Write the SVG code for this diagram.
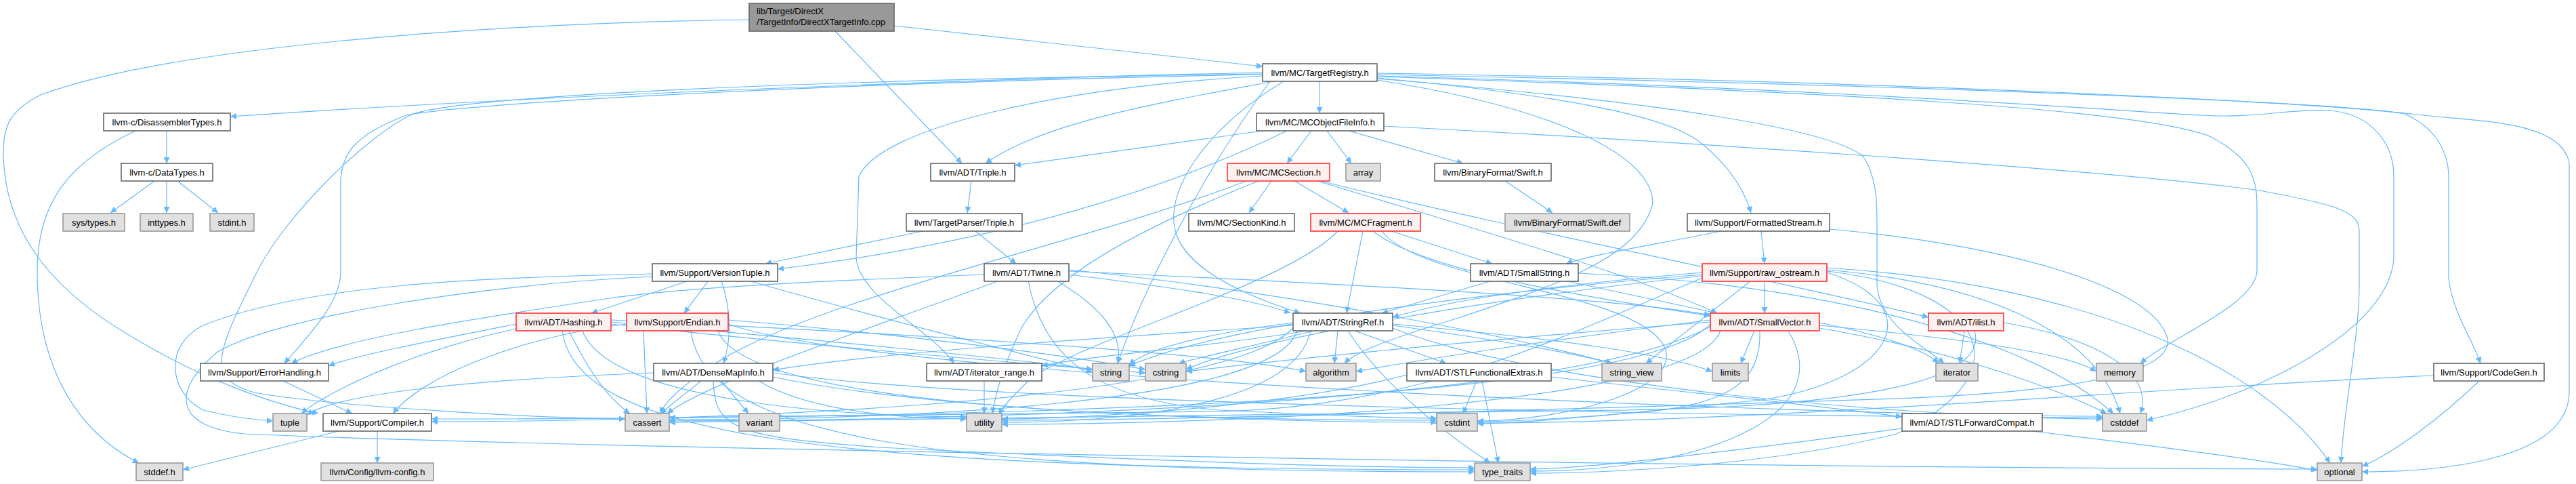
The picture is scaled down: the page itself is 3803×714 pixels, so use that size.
<svg xmlns="http://www.w3.org/2000/svg" width="3803" height="714" viewBox="0 0 3803 714">
<style>
text{font-family:"Liberation Sans",Arial,sans-serif;font-size:13px;fill:#000;text-anchor:middle}
.n rect{fill:#fff;stroke:#666;stroke-width:1.6}
.r rect{fill:#fff0f0;stroke:#f33;stroke-width:1.6}
.g rect{fill:#e0e0e0;stroke:#999;stroke-width:1.6}
.root rect{fill:#999;stroke:#666;stroke-width:1.6}
#edges path{fill:none;stroke:#63b8ff;stroke-width:1.2;marker-end:url(#ah)}
</style>
<defs>
<marker id="ah" viewBox="0 0 10 10" refX="10" refY="5" markerWidth="12" markerHeight="9" markerUnits="userSpaceOnUse" orient="auto">
<path d="M0,0 L10,5 L0,10 z" fill="#63b8ff"/>
</marker>
</defs>
<rect width="3803" height="714" fill="#fff"/>
<g id="edges">
<path d="M1320,38 L1864,98"/>
<path d="M1233,46 L1420,241"/>
<path d="M1106,29 C700,35 250,70 60,140 C10,165 5,190 5,230 C8,330 60,420 200,500 C300,560 400,595 470,610"/>
<path d="M1864,107 C1500,115 800,140 340,172"/>
<path d="M1948,120 L1948,167"/>
<path d="M1880,120 C1720,150 1540,180 1455,241"/>
<path d="M1895,120 C1780,190 1720,280 1735,340 C1750,400 1850,440 1920,462"/>
<path d="M1864,112 C1550,130 1300,190 1268,260 L1264,380 C1268,440 1380,490 1408,536"/>
<path d="M1864,110 C1300,120 700,150 600,170 C520,200 503,230 503,270 L503,400 C503,450 450,500 420,536"/>
<path d="M1864,109 C1200,118 700,140 610,168 C540,200 420,320 380,400 C320,520 300,560 380,580 C500,600 800,617 923,618"/>
<path d="M2033,115 C2300,140 2460,170 2510,210 C2560,250 2578,290 2585,314"/>
<path d="M2033,118 C2300,160 2440,230 2440,300 C2420,380 2300,420 2150,470 C2050,500 2000,520 1985,536"/>
<path d="M1875,120 C1780,250 1690,420 1650,536"/>
<path d="M2033,116 C2450,150 2700,190 2750,230 C2771,260 2771,300 2771,330 L2771,420 C2775,480 2840,510 2870,536"/>
<path d="M2033,113 C2700,135 3150,160 3260,200 C3320,230 3332,260 3332,300 L3332,400 C3330,450 3200,500 3160,536"/>
<path d="M2033,112 C2700,130 3150,165 3250,170 C3330,175 3380,160 3440,163 C3510,170 3534,220 3534,260 L3534,380 C3530,480 3350,580 3169,620"/>
<path d="M2033,110 C2800,125 3450,150 3550,168 C3600,190 3615,230 3615,260 L3615,410 C3620,460 3650,500 3662,536"/>
<path d="M2033,108 C2800,120 3400,150 3560,168 C3650,180 3780,175 3793,240 L3793,580 C3790,680 3600,696 3487,696"/>
<path d="M1864,193 L1498,244"/>
<path d="M1936,193 L1900,241"/>
<path d="M1959,193 L1995,241"/>
<path d="M1991,193 L2160,241"/>
<path d="M2043,186 C2500,210 3100,250 3330,280 C3440,300 3483,310 3483,340 L3483,420 C3483,500 3460,600 3456,683"/>
<path d="M1900,193 C1700,290 1450,360 1148,397"/>
<path d="M1434,267 L1428,314"/>
<path d="M1362,341 L1130,389"/>
<path d="M1440,341 L1500,389"/>
<path d="M1877,267 L1844,314"/>
<path d="M1911,267 L1991,314"/>
<path d="M1945,267 C2150,330 2400,400 2535,462"/>
<path d="M1950,267 C2200,330 2650,420 2847,468"/>
<path d="M1840,267 C1600,360 1200,440 1050,540 C1000,575 980,595 975,610"/>
<path d="M1858,267 C1700,330 1560,400 1510,480 C1480,540 1470,580 1465,610"/>
<path d="M2054,341 L2203,389"/>
<path d="M2012,341 L1988,462"/>
<path d="M2027,341 C2100,400 2350,440 2525,466"/>
<path d="M2040,341 C2100,420 2440,430 2460,520 C2470,580 2300,621 2181,621"/>
<path d="M1975,341 C1900,420 1600,500 1520,560 C1490,590 1480,600 1475,612"/>
<path d="M2222,267 L2292,314"/>
<path d="M2540,341 C2450,360 2350,375 2312,389"/>
<path d="M2600,341 L2605,389"/>
<path d="M2701,338 C2950,360 3180,420 3200,500 C3210,560 3000,580 2800,588 C2300,605 1700,620 1479,620"/>
<path d="M1017,414 L873,462"/>
<path d="M1046,414 L1010,462"/>
<path d="M1065,414 C1080,460 1080,500 1068,536"/>
<path d="M1105,414 C1300,470 1500,520 1613,548"/>
<path d="M963,404 C700,410 450,420 300,480 C240,510 250,580 300,605 C340,615 370,619 403,621"/>
<path d="M963,408 C700,420 400,470 320,520 C250,580 260,630 360,640 C800,660 2500,690 3421,692"/>
<path d="M1453,405 C1200,415 1000,425 900,440 C700,470 500,500 430,536"/>
<path d="M1578,400 C2000,420 2400,440 2525,465"/>
<path d="M1578,405 C1700,420 1850,440 1905,462"/>
<path d="M1518,414 C1540,530 1620,590 1800,605 C1950,612 2050,617 2121,617"/>
<path d="M1560,414 C1620,450 1660,490 1650,536"/>
<path d="M1475,414 C1300,480 1050,560 985,610"/>
<path d="M1578,398 C1900,430 2250,500 2380,536"/>
<path d="M2203,414 L2040,462"/>
<path d="M2310,414 L2535,462"/>
<path d="M2330,403 C2700,420 3000,500 3120,610"/>
<path d="M2605,414 L2605,462"/>
<path d="M2585,414 L2430,536"/>
<path d="M2513,402 C2300,420 2150,440 2056,468"/>
<path d="M2513,405 C2200,430 1800,480 1667,540"/>
<path d="M2513,407 C2200,440 1850,500 1751,545"/>
<path d="M2697,398 C2950,420 3100,500 3130,610"/>
<path d="M2697,395 C3100,420 3350,550 3440,683"/>
<path d="M2697,400 C2950,430 2980,560 2800,640 C2600,690 2350,698 2259,698"/>
<path d="M2697,402 C2850,450 2800,560 2600,590 C2400,610 2250,625 2181,625"/>
<path d="M2513,410 C2300,500 2100,600 1800,607 C1500,612 1200,616 988,616"/>
<path d="M762,478 C650,500 520,525 485,540"/>
<path d="M762,485 C600,520 480,580 445,610"/>
<path d="M840,488 C870,550 900,590 930,610"/>
<path d="M902,475 C1200,500 1500,530 1613,545"/>
<path d="M902,478 C1200,510 1550,540 1691,550"/>
<path d="M902,472 C1300,490 1800,520 1928,548"/>
<path d="M860,488 C900,600 1300,615 1427,615"/>
<path d="M830,488 C850,640 1200,693 2177,693"/>
<path d="M925,478 C750,500 620,560 580,610"/>
<path d="M950,488 L955,610"/>
<path d="M1075,478 C1300,560 2700,614 3104,614"/>
<path d="M1060,488 C1100,600 1700,620 2121,620"/>
<path d="M1075,472 C1300,490 1550,520 1691,545"/>
<path d="M1020,488 C1040,650 1400,696 2177,696"/>
<path d="M1909,480 C1600,500 1300,520 1141,546"/>
<path d="M2000,488 L2135,536"/>
<path d="M1930,488 C1800,510 1600,525 1538,540"/>
<path d="M1909,484 C1800,600 1000,622 637,622"/>
<path d="M1975,488 L1970,536"/>
<path d="M1915,488 C1880,600 1300,619 988,619"/>
<path d="M2056,484 C2300,580 2900,618 3104,618"/>
<path d="M1940,488 C1850,510 1780,525 1740,536"/>
<path d="M2056,478 C2300,500 2450,520 2528,548"/>
<path d="M1909,476 C1800,490 1700,510 1667,538"/>
<path d="M2056,480 C2200,500 2320,520 2380,536"/>
<path d="M1990,488 C2050,580 2150,650 2200,683"/>
<path d="M1935,488 C1910,600 1650,623 1479,623"/>
<path d="M2525,478 C2400,610 1200,618 637,618"/>
<path d="M2525,472 C2300,500 2100,530 2002,548"/>
<path d="M2525,482 C2300,600 1400,621 988,621"/>
<path d="M2686,484 C2900,520 3050,580 3110,610"/>
<path d="M2598,488 C2600,560 2560,600 2400,610 C2300,618 2220,622 2181,622"/>
<path d="M2525,475 C2200,500 1900,530 1751,548"/>
<path d="M2686,476 C2780,495 2840,515 2862,536"/>
<path d="M2590,488 L2570,536"/>
<path d="M2686,480 C2900,500 3050,520 3095,548"/>
<path d="M2640,488 C2720,620 2500,695 2259,695"/>
<path d="M2540,488 C2500,600 1800,626 1479,626"/>
<path d="M2900,488 L2893,536"/>
<path d="M2915,488 C2940,570 2700,600 2400,605 C1800,612 1200,623 988,623"/>
<path d="M2958,476 C3100,500 3180,550 3160,610"/>
<path d="M418,562 L520,610"/>
<path d="M1035,562 L975,610"/>
<path d="M1065,562 L1105,610"/>
<path d="M965,550 C700,560 500,580 453,612"/>
<path d="M1120,562 C1200,610 1350,618 1427,618"/>
<path d="M1141,550 C1500,600 2700,616 3104,616"/>
<path d="M1141,556 C1400,610 1900,623 2121,623"/>
<path d="M1053,562 C1055,630 1080,645 1300,660 C1700,680 2000,690 2177,690"/>
<path d="M1453,562 L1453,610"/>
<path d="M2180,562 L2160,610"/>
<path d="M2188,562 L2212,683"/>
<path d="M2290,556 C2500,580 2700,600 2808,615"/>
<path d="M2077,553 C1900,600 1600,618 1479,618"/>
<path d="M3660,562 C3600,620 3530,670 3487,688"/>
<path d="M3593,554 C3200,570 2600,624 2181,624"/>
<path d="M3000,636 C3200,660 3350,680 3421,694"/>
<path d="M2808,632 C2600,660 2350,692 2259,692"/>
<path d="M557,636 L557,683"/>
<path d="M500,636 L270,693"/>
<path d="M246,193 L246,241"/>
<path d="M200,193 C100,240 55,300 55,400 C55,550 120,640 205,683"/>
<path d="M228,267 L163,314"/>
<path d="M246,267 L246,314"/>
<path d="M262,267 L322,314"/>
</g>
<g id="n_root" class="root"><rect x="1106" y="5" width="214" height="41"/><text x="1117" y="21" style="text-anchor:start">lib/Target/DirectX</text><text x="1117" y="37" style="text-anchor:start">/TargetInfo/DirectXTargetInfo.cpp</text></g>
<g id="n_TargetRegistry" class="n"><rect x="1864" y="94" width="169" height="26"/><text x="1948.5" y="112">llvm/MC/TargetRegistry.h</text></g>
<g id="n_DisassemblerTypes" class="n"><rect x="153" y="167" width="187" height="26"/><text x="246.5" y="185">llvm-c/DisassemblerTypes.h</text></g>
<g id="n_MCObjectFileInfo" class="n"><rect x="1855" y="167" width="188" height="26"/><text x="1949" y="185">llvm/MC/MCObjectFileInfo.h</text></g>
<g id="n_DataTypes" class="n"><rect x="179" y="241" width="135" height="26"/><text x="246.5" y="259">llvm-c/DataTypes.h</text></g>
<g id="n_ADTTriple" class="n"><rect x="1374" y="241" width="124" height="26"/><text x="1436" y="259">llvm/ADT/Triple.h</text></g>
<g id="n_MCSection" class="r"><rect x="1812" y="241" width="151" height="26"/><text x="1887.5" y="259">llvm/MC/MCSection.h</text></g>
<g id="n_array" class="g"><rect x="1987" y="241" width="51" height="26"/><text x="2012.5" y="259">array</text></g>
<g id="n_SwiftH" class="n"><rect x="2118" y="241" width="172" height="26"/><text x="2204" y="259">llvm/BinaryFormat/Swift.h</text></g>
<g id="n_systypes" class="g"><rect x="93" y="315" width="91" height="26"/><text x="138.5" y="333">sys/types.h</text></g>
<g id="n_inttypes" class="g"><rect x="207" y="315" width="78" height="26"/><text x="246" y="333">inttypes.h</text></g>
<g id="n_stdint" class="g"><rect x="310" y="315" width="65" height="26"/><text x="342.5" y="333">stdint.h</text></g>
<g id="n_TPTriple" class="n"><rect x="1338" y="315" width="171" height="26"/><text x="1423.5" y="333">llvm/TargetParser/Triple.h</text></g>
<g id="n_SectionKind" class="n"><rect x="1755" y="315" width="156" height="26"/><text x="1833" y="333">llvm/MC/SectionKind.h</text></g>
<g id="n_MCFragment" class="r"><rect x="1935" y="315" width="162" height="26"/><text x="2016" y="333">llvm/MC/MCFragment.h</text></g>
<g id="n_SwiftDef" class="g"><rect x="2222" y="315" width="184" height="26"/><text x="2314" y="333">llvm/BinaryFormat/Swift.def</text></g>
<g id="n_FormattedStream" class="n"><rect x="2491" y="315" width="210" height="26"/><text x="2596" y="333">llvm/Support/FormattedStream.h</text></g>
<g id="n_VersionTuple" class="n"><rect x="963" y="389" width="185" height="26"/><text x="1055.5" y="407">llvm/Support/VersionTuple.h</text></g>
<g id="n_Twine" class="n"><rect x="1453" y="389" width="125" height="26"/><text x="1515.5" y="407">llvm/ADT/Twine.h</text></g>
<g id="n_SmallString" class="n"><rect x="2171" y="389" width="159" height="26"/><text x="2250.5" y="407">llvm/ADT/SmallString.h</text></g>
<g id="n_raw_ostream" class="r"><rect x="2513" y="389" width="184" height="26"/><text x="2605" y="407">llvm/Support/raw_ostream.h</text></g>
<g id="n_Hashing" class="r"><rect x="762" y="462" width="140" height="26"/><text x="832" y="480">llvm/ADT/Hashing.h</text></g>
<g id="n_Endian" class="r"><rect x="925" y="462" width="150" height="26"/><text x="1000" y="480">llvm/Support/Endian.h</text></g>
<g id="n_StringRef" class="n"><rect x="1909" y="462" width="147" height="26"/><text x="1982.5" y="480">llvm/ADT/StringRef.h</text></g>
<g id="n_SmallVector" class="r"><rect x="2525" y="462" width="161" height="26"/><text x="2605.5" y="480">llvm/ADT/SmallVector.h</text></g>
<g id="n_ilist" class="r"><rect x="2847" y="462" width="111" height="26"/><text x="2902.5" y="480">llvm/ADT/ilist.h</text></g>
<g id="n_ErrorHandling" class="n"><rect x="296" y="536" width="189" height="26"/><text x="390.5" y="554">llvm/Support/ErrorHandling.h</text></g>
<g id="n_DenseMapInfo" class="n"><rect x="965" y="536" width="176" height="26"/><text x="1053" y="554">llvm/ADT/DenseMapInfo.h</text></g>
<g id="n_iterator_range" class="n"><rect x="1368" y="536" width="170" height="26"/><text x="1453" y="554">llvm/ADT/iterator_range.h</text></g>
<g id="n_string" class="g"><rect x="1613" y="536" width="54" height="26"/><text x="1640" y="554">string</text></g>
<g id="n_cstring" class="g"><rect x="1691" y="536" width="60" height="26"/><text x="1721" y="554">cstring</text></g>
<g id="n_algorithm" class="g"><rect x="1928" y="536" width="74" height="26"/><text x="1965" y="554">algorithm</text></g>
<g id="n_STLFunctionalExtras" class="n"><rect x="2077" y="536" width="213" height="26"/><text x="2183.5" y="554">llvm/ADT/STLFunctionalExtras.h</text></g>
<g id="n_string_view" class="g"><rect x="2365" y="536" width="88" height="26"/><text x="2409" y="554">string_view</text></g>
<g id="n_limits" class="g"><rect x="2528" y="536" width="53" height="26"/><text x="2554.5" y="554">limits</text></g>
<g id="n_iterator" class="g"><rect x="2858" y="536" width="62" height="26"/><text x="2889" y="554">iterator</text></g>
<g id="n_memory" class="g"><rect x="3095" y="536" width="69" height="26"/><text x="3129.5" y="554">memory</text></g>
<g id="n_CodeGen" class="n"><rect x="3593" y="536" width="163" height="26"/><text x="3674.5" y="554">llvm/Support/CodeGen.h</text></g>
<g id="n_tuple" class="g"><rect x="403" y="610" width="50" height="26"/><text x="428" y="628">tuple</text></g>
<g id="n_Compiler" class="n"><rect x="477" y="610" width="160" height="26"/><text x="557" y="628">llvm/Support/Compiler.h</text></g>
<g id="n_cassert" class="g"><rect x="923" y="610" width="65" height="26"/><text x="955.5" y="628">cassert</text></g>
<g id="n_variant" class="g"><rect x="1091" y="610" width="60" height="26"/><text x="1121" y="628">variant</text></g>
<g id="n_utility" class="g"><rect x="1427" y="610" width="52" height="26"/><text x="1453" y="628">utility</text></g>
<g id="n_cstdint" class="g"><rect x="2121" y="610" width="60" height="26"/><text x="2151" y="628">cstdint</text></g>
<g id="n_STLForwardCompat" class="n"><rect x="2808" y="610" width="207" height="26"/><text x="2911.5" y="628">llvm/ADT/STLForwardCompat.h</text></g>
<g id="n_cstddef" class="g"><rect x="3104" y="610" width="65" height="26"/><text x="3136.5" y="628">cstddef</text></g>
<g id="n_stddef" class="g"><rect x="201" y="683" width="69" height="26"/><text x="235.5" y="701">stddef.h</text></g>
<g id="n_llvmconfig" class="g"><rect x="474" y="683" width="166" height="26"/><text x="557" y="701">llvm/Config/llvm-config.h</text></g>
<g id="n_type_traits" class="g"><rect x="2177" y="683" width="82" height="26"/><text x="2218" y="701">type_traits</text></g>
<g id="n_optional" class="g"><rect x="3421" y="683" width="66" height="26"/><text x="3454" y="701">optional</text></g>
</svg>
